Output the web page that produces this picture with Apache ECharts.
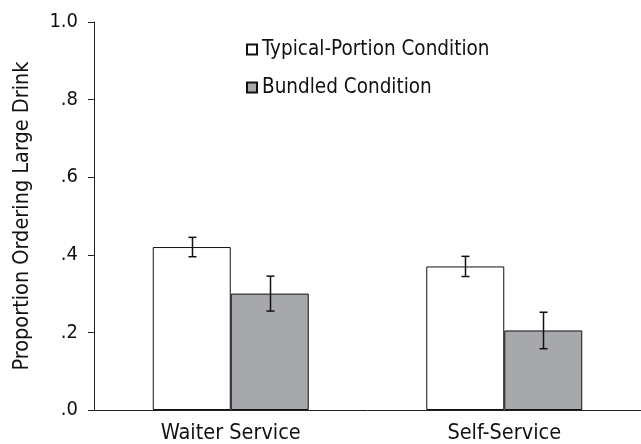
<!DOCTYPE html>
<html>
<head>
<meta charset="utf-8">
<script src="https://cdn.jsdelivr.net/npm/echarts@6/dist/echarts.min.js"></script>
<style>
html,body{margin:0;padding:0;background:#fff;}
#main{width:641px;height:444px;}
</style>
</head>
<body>
<div id="main"></div>
<script>
var categories = ['Waiter Service', 'Self-Service'];
var seriesNames = ['Typical-Portion Condition', 'Bundled Condition'];
var typicalValues = [0.42, 0.37];
var bundledValues = [0.30, 0.205];
var typicalErr = [0.025, 0.026];
var bundledErr = [0.045, 0.047];
var yTickLabels = ['.0', '.2', '.4', '.6', '.8', '1.0'];

var FONT = '"Liberation Sans Narrow", "DejaVu Sans Condensed", sans-serif';
var BAR_W = 78;

function errData(vals, errs) {
  return vals.map(function (v, i) { return [i, v - errs[i], v + errs[i]]; });
}
function errSeries(vals, errs, offset) {
  return {
    type: 'custom',
    data: errData(vals, errs),
    z: 10,
    silent: true,
    renderItem: function (params, api) {
      var lo = api.coord([api.value(0), api.value(1)]);
      var hi = api.coord([api.value(0), api.value(2)]);
      var x = Math.round(lo[0] + offset) + 0.5;
      var cap = 4;
      var st = { stroke: '#111', lineWidth: 1.5, fill: null };
      return {
        type: 'group',
        children: [
          { type: 'line', shape: { x1: x, y1: hi[1], x2: x, y2: lo[1] }, style: st },
          { type: 'line', shape: { x1: x - cap, y1: hi[1], x2: x + cap, y2: hi[1] }, style: st },
          { type: 'line', shape: { x1: x - cap, y1: lo[1], x2: x + cap, y2: lo[1] }, style: st }
        ]
      };
    }
  };
}

var chart = echarts.init(document.getElementById('main'), null, { renderer: 'canvas' });
chart.setOption({
  animation: false,
  backgroundColor: '#fff',
  grid: { left: 94, right: -4, top: 22, bottom: 34, containLabel: false },
  legend: {
    data: seriesNames,
    orient: 'vertical',
    left: 246,
    top: 39,
    padding: 0,
    icon: 'rect',
    itemWidth: 10,
    itemHeight: 10,
    itemGap: 17,
    textStyle: { fontFamily: FONT, fontSize: 20.5, color: '#111', padding: [0, 0, 0, 0] }
  },
  xAxis: {
    type: 'category',
    data: categories,
    axisLine: { lineStyle: { color: '#222', width: 1 } },
    axisTick: { show: false },
    axisLabel: { fontFamily: FONT, fontSize: 21.5, color: '#111', margin: 12 }
  },
  yAxis: {
    type: 'value',
    min: 0,
    max: 1,
    interval: 0.2,
    name: 'Proportion Ordering Large Drink',
    nameLocation: 'middle',
    nameGap: 61,
    nameTextStyle: { fontFamily: FONT, fontSize: 21.5, color: '#111' },
    splitLine: { show: false },
    axisLine: { show: true, lineStyle: { color: '#222', width: 1 } },
    axisTick: { show: true, length: 6, lineStyle: { color: '#222' } },
    axisLabel: {
      fontFamily: FONT, fontSize: 20, color: '#111', margin: 16,
      formatter: function (v) { return yTickLabels[Math.round(v * 5)]; }
    }
  },
  series: [
    {
      name: seriesNames[0], type: 'bar', data: typicalValues, barWidth: BAR_W, barGap: '0%',
      itemStyle: { color: '#ffffff', borderColor: '#111', borderWidth: 1 }
    },
    {
      name: seriesNames[1], type: 'bar', data: bundledValues, barWidth: BAR_W, barGap: '0%',
      itemStyle: { color: '#a7a8ab', borderColor: '#111', borderWidth: 1 }
    },
    errSeries(typicalValues, typicalErr, -BAR_W / 2),
    errSeries(bundledValues, bundledErr, BAR_W / 2)
  ]
});
</script>
</body>
</html>
